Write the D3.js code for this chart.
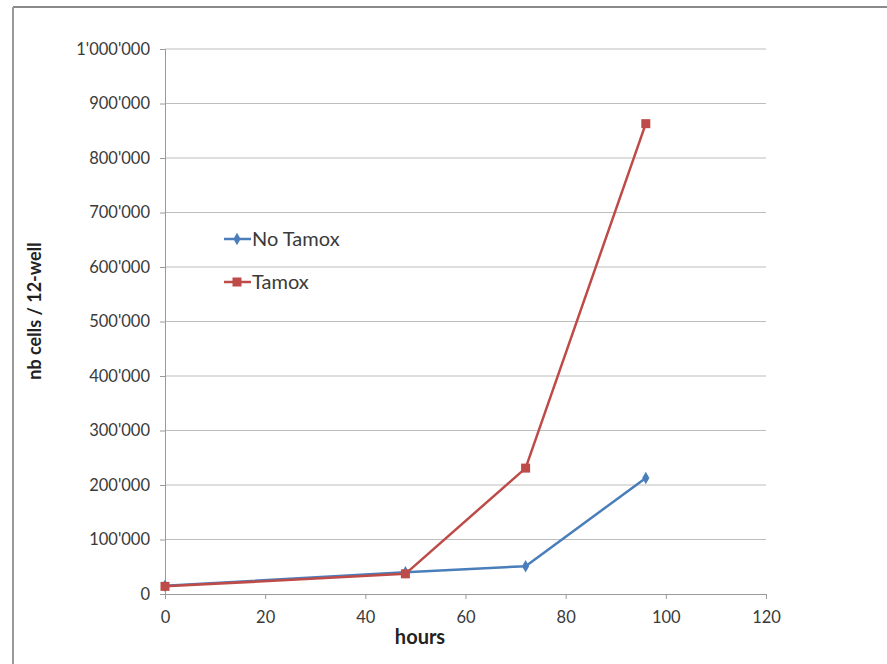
<!DOCTYPE html>
<html>
<head>
<meta charset="utf-8">
<script src="https://cdn.jsdelivr.net/npm/d3@7"></script>
<style>
  html, body { margin: 0; padding: 0; background: #ffffff; }
  svg { display: block; }
  text { font-family: Lato, "Open Sans", sans-serif; }
</style>
</head>
<body>
<svg id="chart" width="887" height="664"></svg>
<script>
// Cell counts per 12-well over time
const hours = [0, 48, 72, 96];
const noTamox = [15000, 40000, 51000, 213000];
const tamox = [14000, 37000, 231000, 863000];
const seriesNames = ["No Tamox", "Tamox"];
const xTicks = [0, 20, 40, 60, 80, 100, 120];
const yTicks = [0, 100000, 200000, 300000, 400000, 500000, 600000, 700000, 800000, 900000, 1000000];

const colors = { "No Tamox": "#4a7ebb", "Tamox": "#be4b48" };

const svg = d3.select("#chart");
const W = 887, H = 664;
const margin = { left: 165, right: W - 766, top: 49, bottom: H - 594 };

const x = d3.scaleLinear().domain([0, 120]).range([margin.left, W - margin.right]);
const y = d3.scaleLinear().domain([0, 1000000]).range([H - margin.bottom, margin.top]);

const swiss = d3.formatLocale({ decimal: ".", thousands: "'", grouping: [3], currency: ["", ""] });
const fmt = swiss.format(",d");

// Frame around the chart area
svg.append("line").attr("x1", 13).attr("x2", W).attr("y1", 7).attr("y2", 7)
  .attr("stroke", "#8a8a8a").attr("stroke-width", 2);
svg.append("line").attr("x1", 13).attr("x2", 13).attr("y1", 7).attr("y2", H)
  .attr("stroke", "#9a9a9a").attr("stroke-width", 2);

// Horizontal gridlines
svg.append("g").selectAll("line").data(yTicks.filter(d => d > 0)).join("line")
  .attr("x1", x(0)).attr("x2", x(120))
  .attr("y1", d => y(d)).attr("y2", d => y(d))
  .attr("stroke", "#bdbdbd").attr("stroke-width", 1);

// Y axis
const yAxis = svg.append("g").attr("transform", `translate(${x(0)},0)`)
  .call(d3.axisLeft(y).tickValues(yTicks).tickFormat(fmt).tickSizeOuter(0).tickSize(5).tickPadding(10));
yAxis.select(".domain").attr("stroke", "#9a9a9a");
yAxis.selectAll(".tick line").attr("stroke", "#9a9a9a");
yAxis.selectAll(".tick text").attr("fill", "#3a3a3a").style("font-size", "16.5px");

// X axis
const xAxis = svg.append("g").attr("transform", `translate(0,${y(0)})`)
  .call(d3.axisBottom(x).tickValues(xTicks).tickSizeOuter(0).tickSize(5).tickPadding(12));
xAxis.select(".domain").attr("stroke", "#9a9a9a");
xAxis.selectAll(".tick line").attr("stroke", "#9a9a9a");
xAxis.selectAll(".tick text").attr("fill", "#3a3a3a").style("font-size", "16.5px");

// Axis titles
svg.append("text").attr("x", 420).attr("y", 644).attr("text-anchor", "middle")
  .style("font-size", "20px").style("font-weight", "bold").attr("fill", "#222")
  .text("hours");
svg.append("text").attr("transform", "translate(41,311) rotate(-90)")
  .attr("text-anchor", "middle")
  .style("font-size", "18px").style("font-weight", "bold").attr("fill", "#222")
  .text("nb cells / 12-well");

// Lines and markers
const line = d3.line().x(d => x(d[0])).y(d => y(d[1]));
const series = [
  { name: seriesNames[0], values: hours.map((h, i) => [h, noTamox[i]]) },
  { name: seriesNames[1], values: hours.map((h, i) => [h, tamox[i]]) }
];

series.forEach(s => {
  svg.append("path").datum(s.values).attr("d", line)
    .attr("fill", "none").attr("stroke", colors[s.name]).attr("stroke-width", 2.5)
    .attr("stroke-linejoin", "round");
});

const diamond = d3.symbol().type(d3.symbolDiamond).size(45);
svg.append("g").selectAll("path").data(series[0].values).join("path")
  .attr("d", diamond).attr("transform", d => `translate(${x(d[0])},${y(d[1])})`)
  .attr("fill", colors["No Tamox"]);
svg.append("g").selectAll("rect").data(series[1].values).join("rect")
  .attr("x", d => x(d[0]) - 4.5).attr("y", d => y(d[1]) - 4.5)
  .attr("width", 9).attr("height", 9).attr("fill", colors["Tamox"]);

// Legend
const legend = svg.append("g");
seriesNames.forEach((name, i) => {
  const ly = 239 + i * 43;
  legend.append("line").attr("x1", 224).attr("x2", 251).attr("y1", ly).attr("y2", ly)
    .attr("stroke", colors[name]).attr("stroke-width", 2.5);
  if (i === 0) {
    legend.append("path").attr("d", diamond).attr("transform", `translate(237,${ly})`)
      .attr("fill", colors[name]);
  } else {
    legend.append("rect").attr("x", 232.5).attr("y", ly - 4.5).attr("width", 9).attr("height", 9)
      .attr("fill", colors[name]);
  }
  legend.append("text").attr("x", 252).attr("y", ly + 7)
    .style("font-size", "20px").attr("fill", "#3a3a3a").text(name);
});
</script>
</body>
</html>
